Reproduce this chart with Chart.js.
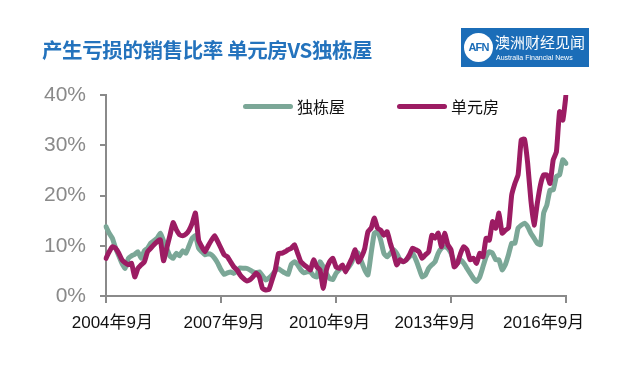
<!DOCTYPE html>
<html>
<head>
<meta charset="utf-8">
<script src="https://cdn.jsdelivr.net/npm/chart.js@4/dist/chart.umd.min.js"></script>
<style>
  html, body { margin: 0; padding: 0; background: #fff; }
  #wrap { position: relative; width: 640px; height: 365px; overflow: hidden; font-family: "Liberation Sans", "Noto Sans CJK SC", sans-serif; }
  #chart { position: absolute; left: 0; top: 0; }
  .title { position: absolute; left: 42px; top: 34px; font-size: 20.5px; font-weight: bold; color: #2473bd; font-family: "Noto Sans CJK SC", sans-serif; white-space: nowrap; letter-spacing: -0.4px; }
  .logo { position: absolute; left: 461px; top: 28px; width: 128px; height: 39px; background: #1b6db8; color: #fff; }
  .logo .circ { position: absolute; left: 3px; top: 5px; width: 29px; height: 29px; border-radius: 50%; background: #fff; color: #1b6db8; font: bold 11px "Liberation Sans", sans-serif; text-align: center; line-height: 29px; letter-spacing: -0.8px; }
  .logo .cn { position: absolute; left: 34px; top: 3px; font-size: 15px; font-family: "Noto Sans CJK SC", sans-serif; white-space: nowrap; }
  .logo .en { position: absolute; left: 35px; top: 26px; font-size: 7px; white-space: nowrap; }
  .leg { position: absolute; top: 94px; font-size: 16px; color: #111; font-family: "Noto Sans CJK SC", sans-serif; white-space: nowrap; }
  .leg i { display: inline-block; width: 50px; height: 5px; border-radius: 3px; vertical-align: middle; margin-right: 4px; position: relative; top: -2px; }
</style>
</head>
<body>
<div id="wrap">
  <canvas id="chart" width="640" height="365"></canvas>
  <div class="title">产生亏损的销售比率 单元房VS独栋屋</div>
  <div class="logo">
    <div class="circ">AFN</div>
    <div class="cn">澳洲财经见闻</div>
    <div class="en">Australia Financial News</div>
  </div>
  <div class="leg" style="left:243px"><i style="background:#7ba797"></i>独栋屋</div>
  <div class="leg" style="left:397px"><i style="background:#9c1c63"></i>单元房</div>
</div>
<script>
// 月度数据：2004年9月 — 2016年9月
const startYear = 2004;
const startMonth = 9;
const tickLabels = ['2004年9月', '2007年9月', '2010年9月', '2013年9月', '2016年9月'];
// 原图里文字标签略偏离刻度线，按原图位置放在这些月份上
const labelIdx = [2, 37, 70, 103, 137];

// 独栋屋 (%)
const houseLoss = [
  13.8, 12.5, 11.5, 9.5, 8.0, 6.5, 5.5, 7.5, 8.0, 8.3, 8.8, 7.5,
  9.0, 9.5, 10.5, 11.0, 11.5, 12.5, 11.0, 9.5, 8.0, 7.5, 8.5, 8.0,
  9.0, 8.5, 10.0, 11.5, 12.0, 9.5, 8.8, 8.2, 8.4, 8.2, 7.5, 6.5,
  5.2, 4.3, 4.6, 4.8, 4.5, 5.0, 5.6, 5.5, 5.5, 5.2, 4.8, 4.6,
  4.8, 4.0, 3.2, 3.6, 4.2, 5.0, 5.4, 5.0, 4.6, 4.3, 6.3, 6.8,
  6.2, 5.2, 4.6, 4.8, 4.8, 4.0, 3.8, 6.8, 5.8, 4.5, 3.5, 3.3,
  4.5, 5.2, 5.8, 5.2, 5.8, 6.8, 8.8, 8.5, 6.8, 5.2, 4.2, 8.5,
  12.5, 12.8, 11.1, 8.5, 7.8, 8.5, 9.2, 8.5, 7.2, 6.8, 7.2, 7.8,
  8.5, 7.2, 5.5, 3.8, 4.2, 5.5, 6.2, 6.8, 8.5, 9.5, 9.8, 9.5,
  8.5, 6.8, 6.5, 7.2, 6.5, 5.5, 4.5, 3.5, 2.9, 3.8, 5.8, 7.8,
  8.8, 8.5, 7.2, 7.2, 5.2, 6.2, 8.2, 10.5, 10.5, 13.5, 14.1, 14.5,
  13.8, 12.5, 11.5, 10.5, 10.2, 16.5, 18.1, 21.1, 21.1, 23.8, 24.1, 27.1,
  26.4
];

// 单元房 (%)
const unitLoss = [
  7.5, 8.8, 9.8, 9.5, 8.5, 7.2, 6.6, 6.2, 6.5, 3.8, 5.5, 6.2,
  6.8, 8.8, 9.5, 10.2, 10.8, 11.2, 7.0, 9.5, 12.0, 14.6, 13.2, 12.2,
  12.0, 12.3, 13.1, 14.5, 16.5, 11.1, 9.8, 8.8, 10.0, 11.1, 12.0, 10.8,
  9.5, 8.2, 7.8, 6.8, 5.8, 5.2, 4.2, 3.5, 3.0, 3.2, 3.8, 4.6,
  3.8, 1.5, 1.2, 1.3, 3.2, 5.2, 8.5, 8.5, 8.8, 9.2, 9.5, 10.2,
  8.5, 6.8, 6.2, 5.7, 5.2, 7.2, 5.8, 5.2, 1.5, 5.2, 6.8, 7.5,
  5.8, 5.5, 6.2, 4.8, 6.2, 7.5, 9.2, 6.8, 7.8, 9.5, 12.8, 13.5,
  15.5, 13.5, 13.1, 12.1, 12.8, 10.5, 8.5, 6.2, 7.2, 6.8, 7.2, 8.2,
  9.5, 9.2, 8.8, 7.5, 8.2, 8.8, 12.1, 11.5, 12.5, 9.8, 12.5, 10.2,
  9.2, 5.8, 6.5, 8.5, 9.8, 9.2, 7.2, 7.5, 6.5, 8.5, 7.8, 11.5,
  11.1, 14.8, 13.5, 16.5, 12.5, 13.1, 13.5, 20.1, 22.4, 24.1, 31.1, 31.2,
  26.4, 19.1, 14.1, 18.4, 22.1, 24.1, 24.1, 22.4, 27.1, 28.7, 36.7, 35.0,
  40.0
];

const months = houseLoss.map((_, i) => {
    const total = startMonth - 1 + i;
    return `${startYear + Math.floor(total / 12)}年${(total % 12) + 1}月`;
});

const axisGrey = '#8a8a8a';

new Chart(document.getElementById('chart'), {
    type: 'line',
    data: {
        labels: months,
        datasets: [
            {
                label: '单元房',
                data: unitLoss,
                borderColor: '#9c1c63',
                borderWidth: 5,
                pointRadius: 0,
                tension: 0.15,
                borderJoinStyle: 'round',
                borderCapStyle: 'round',
                order: 0
            },
            {
                label: '独栋屋',
                data: houseLoss,
                borderColor: '#7ba797',
                borderWidth: 5,
                pointRadius: 0,
                tension: 0.15,
                borderJoinStyle: 'round',
                borderCapStyle: 'round',
                order: 1
            }
        ]
    },
    options: {
        responsive: false,
        animation: false,
        layout: { padding: { left: 0, right: 74, top: 95, bottom: 0 } },
        plugins: { legend: { display: false }, tooltip: { enabled: false } },
        scales: {
            // 刻度线：每三年一个
            x: {
                offset: false,
                weight: 0,
                border: { color: axisGrey, width: 2 },
                grid: { drawOnChartArea: false, drawTicks: true, tickLength: 7, color: axisGrey, lineWidth: 2 },
                ticks: {
                    autoSkip: false,
                    maxRotation: 0,
                    padding: 0,
                    font: { size: 1 },
                    callback: (v, i) => (i % 36 === 0 ? '' : null)
                },
                afterFit: (s) => { s.height = 8; }
            },
            // 文字标签
            xLabels: {
                type: 'category',
                position: 'bottom',
                offset: false,
                weight: 1,
                border: { display: false },
                grid: { display: false, drawTicks: false },
                ticks: {
                    autoSkip: false,
                    maxRotation: 0,
                    color: '#111',
                    padding: 9,
                    font: { size: 17, family: '"Liberation Sans", "Noto Sans CJK SC", sans-serif' },
                    callback: (v, i) => {
                        const k = labelIdx.indexOf(i);
                        return k >= 0 ? tickLabels[k] : null;
                    }
                },
                afterFit: (s) => { s.height = 61; }
            },
            y: {
                min: 0,
                max: 40,
                border: { color: axisGrey, width: 2 },
                grid: { drawOnChartArea: false, drawTicks: true, tickLength: 6, color: axisGrey, lineWidth: 2 },
                ticks: {
                    stepSize: 10,
                    color: axisGrey,
                    padding: 14,
                    font: { size: 21, family: '"Liberation Sans", sans-serif' },
                    callback: (v) => `${v}%`
                },
                afterFit: (s) => { s.width = 106; }
            }
        }
    }
});
</script>
</body>
</html>
